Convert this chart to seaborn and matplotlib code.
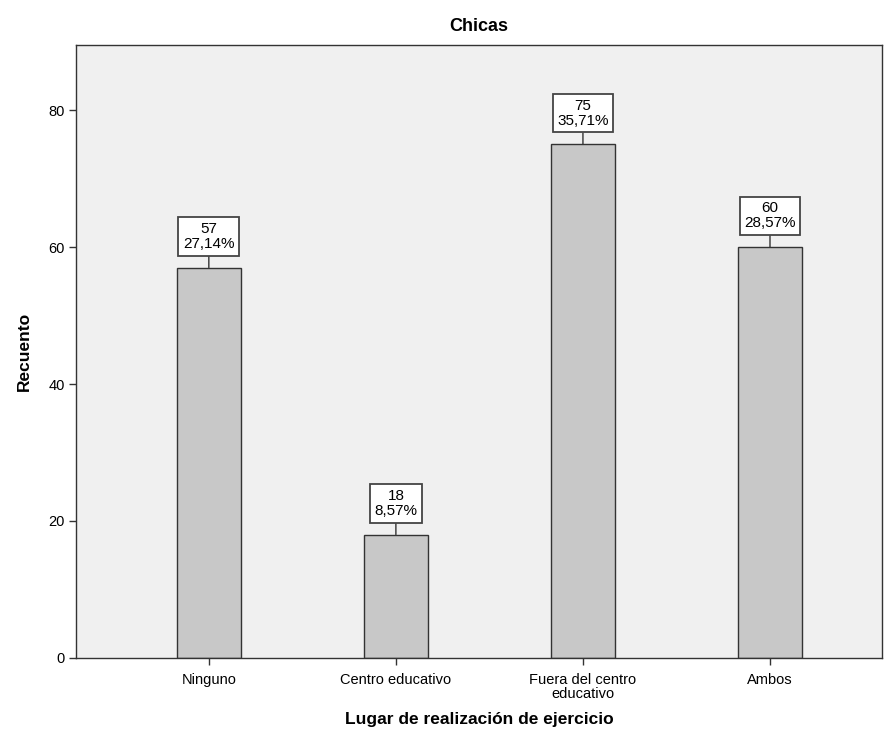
import pandas as pd
import matplotlib
matplotlib.use("Agg")
import matplotlib.pyplot as plt
import seaborn as sns

# data
categorias = ["Ninguno", "Centro educativo", "Fuera del centro\neducativo", "Ambos"]
recuentos = [57, 18, 75, 60]
porcentajes = ["27,14%", "8,57%", "35,71%", "28,57%"]

df = pd.DataFrame({"lugar": categorias, "recuento": recuentos})

sns.set_style("ticks")
plt.rcParams["font.family"] = ["Liberation Sans", "DejaVu Sans"]
plt.rcParams["text.color"] = "black"
plt.rcParams["xtick.color"] = "#333333"
plt.rcParams["ytick.color"] = "#333333"
plt.rcParams["xtick.labelcolor"] = "black"
plt.rcParams["ytick.labelcolor"] = "black"
plt.rcParams["axes.labelcolor"] = "black"

fig, ax = plt.subplots(figsize=(8.84, 7.4), dpi=100)
fig.subplots_adjust(left=0.086, right=0.998, top=0.939, bottom=0.111)

sns.barplot(data=df, x="lugar", y="recuento", color="#C8C8C8",
            edgecolor="#333333", linewidth=1, width=0.34, saturation=1, ax=ax)

ax.set_facecolor("#F0F0F0")
ax.set_xlim(-0.71, 3.6)
ax.set_ylim(0, 89.5)
ax.set_yticks([0, 20, 40, 60, 80])
for s in ax.spines.values():
    s.set_color("#333333")
    s.set_linewidth(1)
ax.tick_params(axis="both", labelsize=10.5, length=5, width=1)
ax.tick_params(axis="x", pad=6)
ax.tick_params(axis="y", pad=3)
for t in ax.get_xticklabels():
    t.set_linespacing(1.0)

ax.set_title("Chicas", fontsize=13, fontweight="bold", pad=10)
ax.set_xlabel("Lugar de realización de ejercicio", fontsize=12.5,
              fontweight="bold", labelpad=8)
ax.set_ylabel("Recuento", fontsize=12.5, fontweight="bold", labelpad=12)

# boxed value labels above each bar
for i, (v, p) in enumerate(zip(recuentos, porcentajes)):
    ax.annotate(f"{v}\n{p}", xy=(i, v), xytext=(0, 12),
                textcoords="offset points", ha="center", va="bottom",
                fontsize=11, linespacing=1.1,
                bbox=dict(boxstyle="square,pad=0.3", fc="white",
                          ec="#444444", lw=1.3),
                arrowprops=dict(arrowstyle="-", color="#333333", lw=1,
                                shrinkA=0, shrinkB=0))

plt.savefig("out.png", dpi=100)
